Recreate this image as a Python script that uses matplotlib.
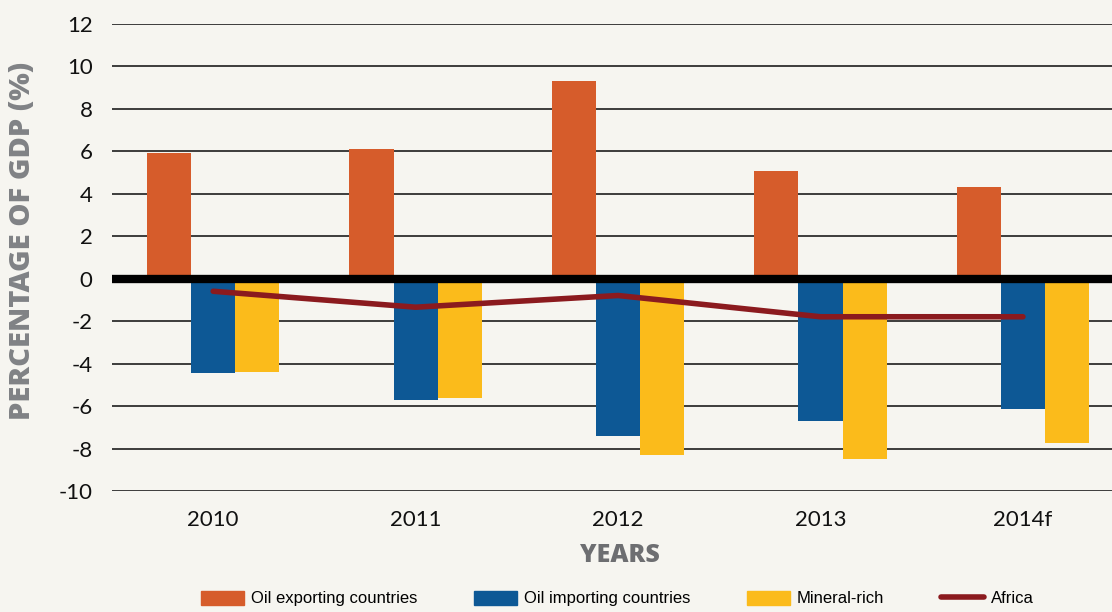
import numpy as np
import matplotlib.pyplot as plt
from matplotlib.lines import Line2D
from matplotlib.patches import Patch

# --- Data (percentage of GDP) ---
years = ['2010', '2011', '2012', '2013', '2014f']
oil_exporting = [5.9, 6.1, 9.3, 5.05, 4.3]
oil_importing = [-4.45, -5.7, -7.4, -6.7, -6.15]
mineral_rich = [-4.4, -5.6, -8.3, -8.5, -7.75]
africa = [-0.6, -1.35, -0.8, -1.8, -1.8]

# --- Style ---
BG = '#f6f5f0'
C_EXP = '#d65c2b'
C_IMP = '#0d5895'
C_MIN = '#fbbb1b'
C_AFR = '#8b1a1e'
plt.rcParams['axes.unicode_minus'] = False   # plain hyphen for negatives
plt.rcParams['font.family'] = ['Lato', 'DejaVu Sans']

fig = plt.figure(figsize=(11.12, 6.12), dpi=100, facecolor=BG)
ax = fig.add_axes([0.1007, 0.1977, 0.8993, 0.7639], facecolor=BG)

x = np.arange(len(years))
w = 0.218
ax.bar(x - w, oil_exporting, w, color=C_EXP, zorder=3)
ax.bar(x, oil_importing, w, color=C_IMP, zorder=3)
ax.bar(x + w, mineral_rich, w, color=C_MIN, zorder=3)
ax.plot(x, africa, color=C_AFR, lw=4, solid_capstyle='round', zorder=5)

# gridlines + heavy zero line
for v in range(-10, 13, 2):
    if v == 0:
        continue
    ax.axhline(v, color='#3c3c3c', lw=1.4, zorder=1)
ax.axhline(0, color='black', lw=6, zorder=4)

ax.set_xlim(-0.5, 4.44)
ax.set_ylim(-10, 12)
ax.set_yticks(range(-10, 13, 2))
ax.set_xticks(x)
ax.set_xticklabels(years)
ax.tick_params(length=0, labelsize=16, colors='#111111')
ax.tick_params(axis='y', pad=14)
ax.tick_params(axis='x', pad=14)
for s in ax.spines.values():
    s.set_visible(False)

fig.text(0.0205, 0.607, 'PERCENTAGE OF GDP (%)', rotation=90, ha='center',
         va='center', fontsize=21, fontweight='heavy', color='#808285',
         family=['Open Sans', 'DejaVu Sans'])
fig.text(0.5575, 0.092, 'YEARS', ha='center', va='center', fontsize=18,
         fontweight='heavy', color='#6d6e71', family=['Open Sans', 'DejaVu Sans'])

handles = [
    Patch(color=C_EXP, label='Oil exporting countries'),
    Patch(color=C_IMP, label='Oil importing countries'),
    Patch(color=C_MIN, label='Mineral-rich'),
    Line2D([0], [0], color=C_AFR, lw=4, solid_capstyle='round', label='Africa'),
]
fig.legend(handles=handles, loc='center', bbox_to_anchor=(0.555, 0.022), ncol=4,
           frameon=False, prop={'family': ['Liberation Sans', 'DejaVu Sans'], 'size': 12},
           handlelength=2.6, handleheight=0.95, handletextpad=0.4,
           columnspacing=3.4)

fig.savefig('out.png', dpi=100, facecolor=BG)
